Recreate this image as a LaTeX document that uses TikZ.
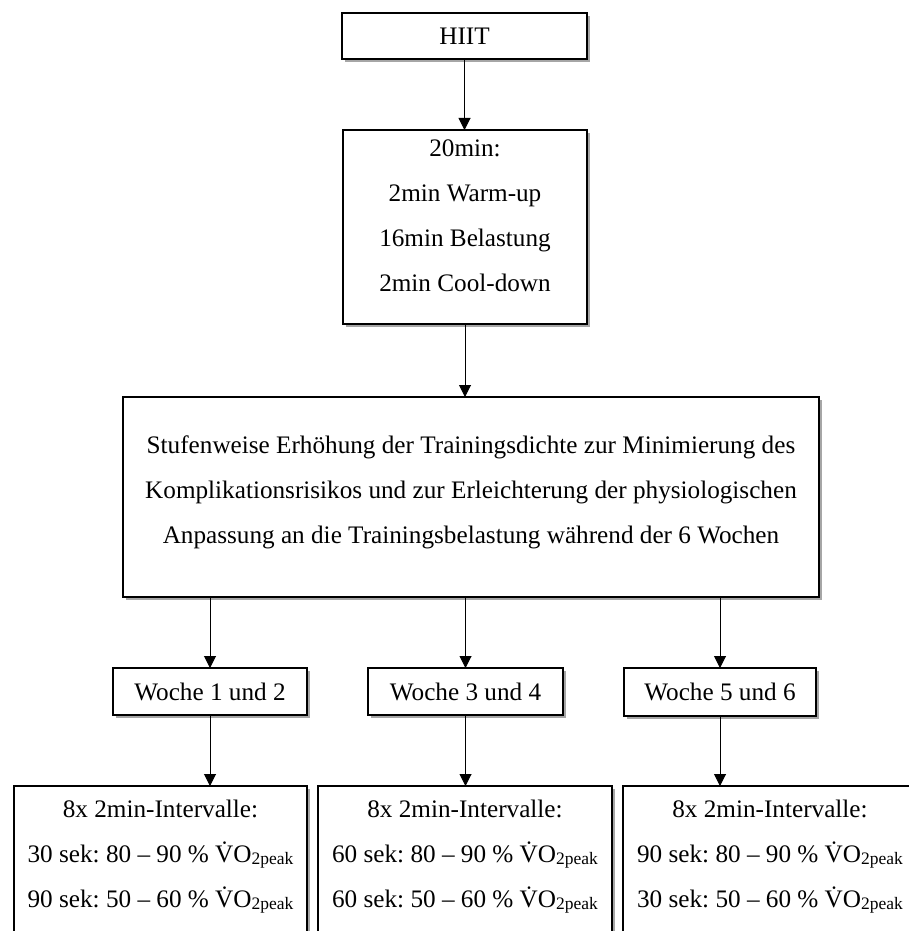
\documentclass[tikz,border=0pt]{standalone}
\usepackage{fontspec}
\setmainfont{Liberation Serif}
\usetikzlibrary{arrows.meta,shadows}
\newcommand{\vopeak}{\.{V}O\raisebox{-2pt}{\fontsize{17.5}{18}\selectfont 2peak}}
\frenchspacing
\begin{document}
\begin{tikzpicture}[x=1pt,y=-1pt,
  box/.style={draw=black, line width=2.2pt, fill=white, rectangle, inner sep=0pt, outer sep=0pt,
    font=\fontsize{25.2}{45}\selectfont,
    drop shadow={shadow xshift=3pt, shadow yshift=-3pt, opacity=0.35, fill=black}},
  txt/.style={font=\fontsize{25.2}{45}\selectfont, align=center, inner sep=0pt, outer sep=0pt},
  conn/.style={line width=1pt, -{Triangle[width=12pt,length=12pt]}}]
\useasboundingbox (0,0) rectangle (909,931);
\fill[white] (0,0) rectangle (909,931);
\clip (0,0) rectangle (909,931);

\node[box, minimum width=245pt, minimum height=46pt] (hiit) at (464.5,36) {HIIT};

\node[box, minimum width=244pt, minimum height=194pt] (dur) at (465,227) {};
\node[txt, anchor=north] (durt) at (465,139.7) {20min:\\2min Warm-up\\16min Belastung\\2min Cool-down};

\node[box, minimum width=696pt, minimum height=200pt] (big) at (471,497) {};
\node[txt, anchor=north] (bigt) at (471,435.9) {Stufenweise Erhöhung der Trainingsdichte zur Minimierung des\\Komplikationsrisikos und zur Erleichterung der physiologischen\\Anpassung an die Trainingsbelastung während der 6 Wochen};

\node[box, minimum width=194pt, minimum height=47pt] (w1) at (210,691.5) {Woche 1 und 2};
\node[box, minimum width=195pt, minimum height=47pt] (w2) at (465.5,691.5) {Woche 3 und 4};
\node[box, minimum width=192pt, minimum height=48pt] (w3) at (720,692) {Woche 5 und 6};

\node[box, minimum width=293pt, minimum height=200pt, anchor=north] (b1) at (160.5,786) {};
\node[txt, anchor=north] (b1t) at (160.5,800.5) {8x 2min-Intervalle:\\30 sek: 80 -- 90 \% \vopeak\\90 sek: 50 -- 60 \% \vopeak};
\node[box, minimum width=294pt, minimum height=200pt, anchor=north] (b2) at (465,786) {};
\node[txt, anchor=north] (b2t) at (465,800.5) {8x 2min-Intervalle:\\60 sek: 80 -- 90 \% \vopeak\\60 sek: 50 -- 60 \% \vopeak};
\node[box, minimum width=294pt, minimum height=200pt, anchor=north] (b3) at (770,786) {};
\node[txt, anchor=north] (b3t) at (770,800.5) {8x 2min-Intervalle:\\90 sek: 80 -- 90 \% \vopeak\\30 sek: 50 -- 60 \% \vopeak};

\draw[conn] (hiit.south) -- (hiit.south |- dur.north);
\draw[conn] (dur.south) -- (dur.south |- big.north);
\draw[conn] (w1.north |- big.south) -- (w1.north);
\draw[conn] (w2.north |- big.south) -- (w2.north);
\draw[conn] (w3.north |- big.south) -- (w3.north);
\draw[conn] (w1.south) -- (w1.south |- b1.north);
\draw[conn] (w2.south) -- (w2.south |- b2.north);
\draw[conn] (w3.south) -- (w3.south |- b3.north);
\end{tikzpicture}
\end{document}
